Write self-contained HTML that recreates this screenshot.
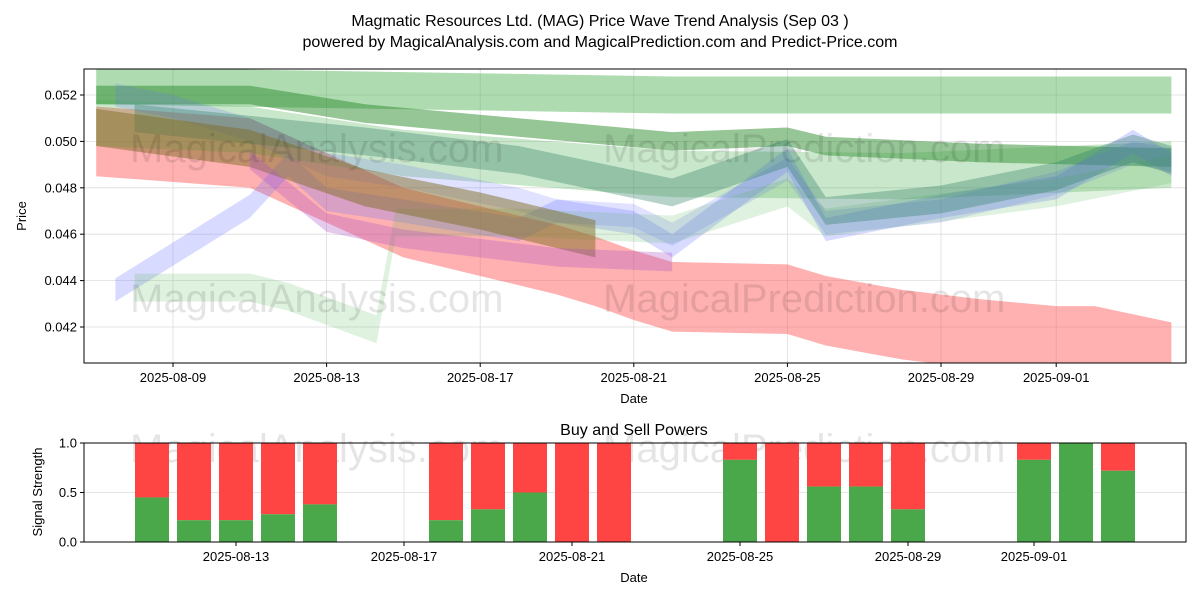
<!DOCTYPE html>
<html><head><meta charset="utf-8"><style>
body{margin:0;background:#fff;font-family:"Liberation Sans",sans-serif;}
svg text{font-family:"Liberation Sans",sans-serif;fill:#000;}
</style></head><body>
<svg id="c" width="1200" height="600" xmlns="http://www.w3.org/2000/svg">
<text x="600" y="26" font-size="16" text-anchor="middle">Magmatic Resources Ltd. (MAG) Price Wave Trend Analysis (Sep 03 )</text>
<text x="600" y="47" font-size="16" text-anchor="middle">powered by MagicalAnalysis.com and MagicalPrediction.com and Predict-Price.com</text>
<defs><clipPath id="pc"><rect x="84" y="69" width="1102" height="294"/></clipPath></defs>
<g id="grid1"></g>
<g id="bands" clip-path="url(#pc)"></g>
<g font-size="40">
<text x="130" y="162" style="fill:rgba(0,0,0,0.1)">MagicalAnalysis.com</text>
<text x="603" y="162" style="fill:rgba(0,0,0,0.1)">MagicalPrediction.com</text>
<text x="130" y="312" style="fill:rgba(0,0,0,0.1)">MagicalAnalysis.com</text>
<text x="603" y="312" style="fill:rgba(0,0,0,0.1)">MagicalPrediction.com</text>
<text x="130" y="462" style="fill:rgba(0,0,0,0.1)">MagicalAnalysis.com</text>
<text x="603" y="462" style="fill:rgba(0,0,0,0.1)">MagicalPrediction.com</text>
</g>
<rect x="84" y="69" width="1102" height="294" fill="none" stroke="#000" stroke-width="1"/>
<g id="ax1"></g>
<text x="634" y="403" font-size="13" text-anchor="middle">Date</text>
<text x="26" y="216" font-size="13" text-anchor="middle" transform="rotate(-90 26 216)">Price</text>
<text x="634" y="435" font-size="16" text-anchor="middle">Buy and Sell Powers</text>
<g id="grid2"></g>
<g id="bars"></g>
<rect x="84" y="443" width="1102" height="99" fill="none" stroke="#000" stroke-width="1"/>
<g id="ax2"></g>
<text x="634" y="582" font-size="13" text-anchor="middle">Date</text>
<text x="42" y="492" font-size="13" text-anchor="middle" transform="rotate(-90 42 492)">Signal Strength</text>
</svg>
<script>
const xTickDays=[9,13,17,21,25,29,32];
const xTickLabels=["2025-08-09","2025-08-13","2025-08-17","2025-08-21","2025-08-25","2025-08-29","2025-09-01"];
const yTicks=[0.042,0.044,0.046,0.048,0.050,0.052];
const bandColors=["rgba(76,175,80,0.45)","rgba(255,80,80,0.45)","rgba(46,139,46,0.5)","rgba(76,175,80,0.3)","rgba(100,110,255,0.25)","rgba(100,110,255,0.2)","rgba(76,175,80,0.18)","rgba(46,125,100,0.35)","rgba(130,110,40,0.5)","rgba(170,80,200,0.3)"];
const bandDays=[
[7,22,35],
[7,11,13,15,17,19,20,21,22,25,26,28,30,32,33,35],
[7,11,14,18,22,25,26,30,35],
[7,11,15,22,28,35],
[7.5,11,12,13,15,18,19,21,22,25,26,29,32,34,35],
[7.5,9,11,13,15,18,19,21,22,25,26,29,32,34,35],
[8,11,12,14.3,14.8,18,22,25,26,32,35],
[8,11,14,18,22,25,26,29,32,34,35],
[7,11,14,17,20],
[11,13,15,19,22]];
const bandCenters=[
[0.0524,0.0520,0.0520],
[0.0500,0.0495,0.0480,0.0465,0.0457,0.0449,0.0444,0.0438,0.0433,0.0432,0.0427,0.0421,0.0417,0.0414,0.0414,0.0407],
[0.0520,0.0520,0.0512,0.0506,0.0500,0.0502,0.0498,0.0495,0.0493],
[0.0508,0.0505,0.0495,0.0486,0.0485,0.0490],
[0.0436,0.0472,0.0490,0.0475,0.0470,0.0462,0.0470,0.0465,0.0455,0.0492,0.0462,0.0472,0.0480,0.0500,0.0490],
[0.0520,0.0515,0.0505,0.0490,0.0485,0.0475,0.0470,0.0468,0.0460,0.0488,0.0465,0.0470,0.0482,0.0495,0.0492],
[0.0437,0.0437,0.0433,0.0419,0.0465,0.0465,0.0462,0.0478,0.0465,0.0478,0.0488],
[0.0510,0.0505,0.0500,0.0492,0.0478,0.0495,0.0470,0.0475,0.0485,0.0497,0.0492],
[0.0506,0.0497,0.0480,0.0470,0.0458],
[0.0492,0.0465,0.0458,0.0450,0.0448]];
const bandHalf=[0.0008,0.0015,0.0004,0.0010,0.0005,0.0005,0.0006,0.0006,0.0008,0.0004];
const barDays=[11,12,13,14,15,18,19,20,21,22,25,26,27,28,29,32,33,34];
const buyPower=[0.45,0.22,0.22,0.28,0.38,0.22,0.33,0.5,0,0,0.83,0,0.56,0.56,0.33,0.83,1.0,0.72];
const sigTickDays=[13,17,21,25,29,32];
const sigTickLabels=["2025-08-13","2025-08-17","2025-08-21","2025-08-25","2025-08-29","2025-09-01"];
const yTicks2=[0,0.5,1.0];

const NS="http://www.w3.org/2000/svg";
const X=d=>173+(d-9)*38.4;
const Y=v=>95+(0.052-v)*23200;
const X2=d=>236+(d-13)*42;
const Y2=v=>542-v*99;
function mk(t,a,p){const e=document.createElementNS(NS,t);for(const k in a)e.setAttribute(k,a[k]);document.getElementById(p).appendChild(e);return e;}
xTickDays.forEach((d,i)=>{
 const l=mk('line',{x1:X(d),x2:X(d),y1:69,y2:363,stroke:'#ddd','stroke-width':0.8},'grid1');
 
 
 mk('line',{x1:X(d),x2:X(d),y1:363,y2:367,stroke:'#000'},'ax1');
 const t=mk('text',{x:X(d),y:382,'font-size':13,'text-anchor':'middle'},'ax1');t.textContent=xTickLabels[i];
 
 
});
yTicks.forEach(v=>{
 const l=mk('line',{x1:84,x2:1186,y1:Y(v),y2:Y(v),stroke:'#ddd','stroke-width':0.8},'grid1');
 
 
 mk('line',{x1:80,x2:84,y1:Y(v),y2:Y(v),stroke:'#000'},'ax1');
 const t=mk('text',{x:77,y:Y(v)+4.5,'font-size':13,'text-anchor':'end'},'ax1');t.textContent=v.toFixed(3);
 
 
});
bandDays.forEach((ds,b)=>{
 const top=ds.map((d,i)=>X(d)+','+Y(bandCenters[b][i]+bandHalf[b]));
 const bot=ds.map((d,i)=>X(d)+','+Y(bandCenters[b][i]-bandHalf[b])).reverse();
 const p=mk('polygon',{points:top.concat(bot).join(' '),fill:bandColors[b]},'bands');
 
 
});
sigTickDays.forEach((d,i)=>{
 const l=mk('line',{x1:X2(d),x2:X2(d),y1:443,y2:542,stroke:'#ddd','stroke-width':0.8},'grid2');
 
 
 mk('line',{x1:X2(d),x2:X2(d),y1:542,y2:546,stroke:'#000'},'ax2');
 const t=mk('text',{x:X2(d),y:561,'font-size':13,'text-anchor':'middle'},'ax2');t.textContent=sigTickLabels[i];
 
 
});
yTicks2.forEach(v=>{
 const l=mk('line',{x1:84,x2:1186,y1:Y2(v),y2:Y2(v),stroke:'#ddd','stroke-width':0.8},'grid2');
 
 
 mk('line',{x1:80,x2:84,y1:Y2(v),y2:Y2(v),stroke:'#000'},'ax2');
 const t=mk('text',{x:77,y:Y2(v)+4.5,'font-size':13,'text-anchor':'end'},'ax2');t.textContent=v.toFixed(1);
 
 
});
buyPower.forEach((v,i)=>{
 const cx=X2(barDays[i]);
 const s=mk('rect',{x:cx-17,y:Y2(1),width:34,height:Y2(v)-Y2(1),fill:'#ff4444'},'bars');
 
 
 const g=mk('rect',{x:cx-17,y:Y2(v),width:34,height:Y2(0)-Y2(v),fill:'#4aa84a'},'bars');
 
 
});
</script>
</body></html>
